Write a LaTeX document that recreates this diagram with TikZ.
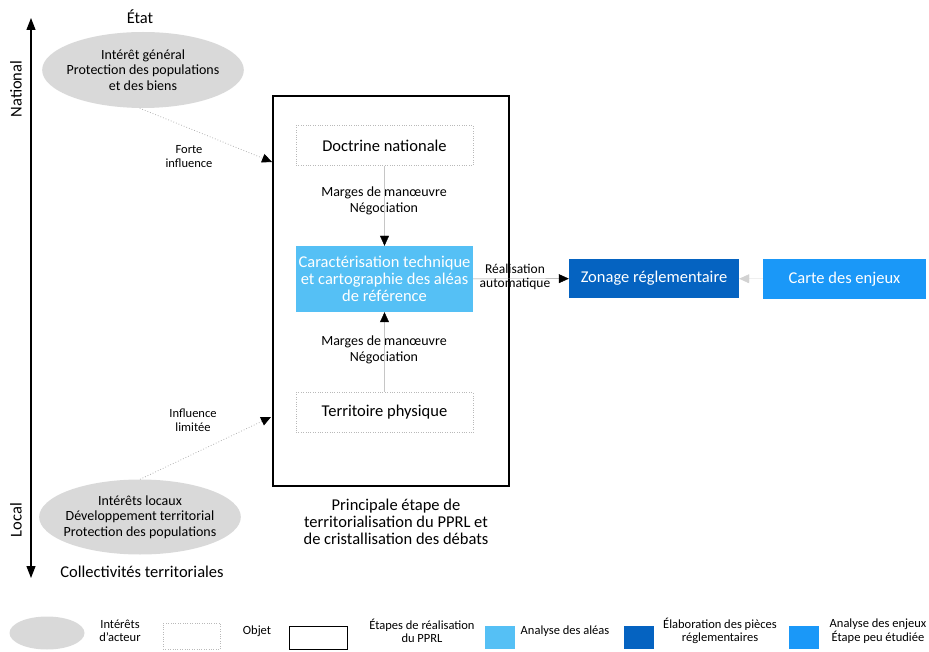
\documentclass[tikz,border=0pt]{standalone}
\usepackage{fontspec}
\setmainfont{Carlito}
\usetikzlibrary{positioning,arrows.meta,shapes.geometric}
\definecolor{aleas}{RGB}{85,192,245}
\definecolor{regl}{RGB}{5,99,193}
\definecolor{enjeux}{RGB}{26,152,248}
\definecolor{interet}{RGB}{217,217,217}

\begin{document}
\begin{tikzpicture}[x=1pt,y=-1pt,
  grand/.style={font=\fontsize{16.5}{17}\selectfont},
  moyen/.style={font=\fontsize{14}{15.5}\selectfont},
  petit/.style={font=\fontsize{12.5}{14}\selectfont},
  legende/.style={font=\fontsize{12.5}{13.5}\selectfont},
  acteur/.style={ellipse,fill=interet,inner xsep=-5pt,inner ysep=0pt,align=center,moyen},
  objet/.style={draw=gray!55,dotted,minimum width=177,minimum height=40,grand},
  etape/.style={fill=#1,text=white,align=center,inner sep=0,grand},
  fleche/.style={-{Triangle[length=10pt,width=9pt,color=black]}},
  influence/.style={fleche,draw=gray!60,dotted,thick},
  marge/.style={fleche,draw=gray!45}]
  \useasboundingbox (0,0) rectangle (929,652);

  \coordinate (haut) at (31,18);
  \coordinate (bas) at (31,578);
  \draw[{Triangle[length=12pt,width=9pt]}-{Triangle[length=12pt,width=9pt]},line width=1.2pt] (haut) -- (bas);
  \node[rotate=90,grand] (national) at (16,89) {National};
  \node[rotate=90,grand] (local) at (16,520) {Local};

  \node[grand] (etat) at (140,17) {État};
  \node[acteur,minimum width=200,minimum height=76] (intgen) at (143,70)
    {Intérêt général\\Protection des populations\\et des biens};
  \node[acteur,minimum width=200,minimum height=75] (intloc) at (140,517)
    {Intérêts locaux\\Développement territorial\\Protection des populations};
  \node[grand] (collec) at (142,572) {Collectivités territoriales};

  \node[draw,line width=1.5pt,minimum width=236,minimum height=390] (etapes) at (391,291) {};
  \node[objet] (doctrine) at (384.5,145.5) {Doctrine nationale};
  \node[etape=aleas,minimum width=177,minimum height=66] (carac) at (384.5,279)
    {Caractérisation technique\\et cartographie des aléas\\de référence};
  \node[objet] (territoire) at (384.5,412.5) {Territoire physique};
  \node[moyen,align=center] (marge1) at (384,201) {Marges de manœuvre\\Négociation};
  \node[moyen,align=center] (marge2) at (384,350) {Marges de manœuvre\\Négociation};
  \node[align=center,grand] (principale) at (396,522)
    {Principale étape de\\territorialisation du PPRL et\\de cristallisation des débats};

  \node[etape=regl,minimum width=170,minimum height=39] (zonage) at (654,278.5) {Zonage réglementaire};
  \node[etape=enjeux,minimum width=163,minimum height=40] (carte) at (844.5,279) {Carte des enjeux};

  \coordinate (forte) at (272,162);
  \coordinate (limitee) at (271,417);
  \draw[influence] (intgen.265) -- (forte);
  \draw[influence] (intloc.north) -- (limitee);
  \node[petit,align=center] (fortelbl) at (189,157) {Forte\\influence};
  \node[petit,align=center] (limlbl) at (193,420) {Influence\\limitée};

  \draw[marge] (doctrine) -- (carac);
  \draw[marge] (territoire) -- (carac);
  \draw[fleche,draw=gray!80] (carac) -- (zonage);
  \node[font=\fontsize{13.5}{14}\selectfont,align=center] (auto) at (515,277) {Réalisation\\automatique};
  \draw[-{Triangle[length=10pt,width=9pt]},draw=gray!15,color=gray!35] (carte) -- (zonage);

  \foreach \x/\t in {120/{Intérêts\\d'acteur},257/Objet,422/{Étapes de réalisation\\du PPRL},
      565/Analyse des aléas,720/{Élaboration des pièces\\réglementaires},878/{Analyse des enjeux\\Étape peu étudiée}}
    \node[legende,align=center] (leg\x) at (\x,631) {\t};
  \node[ellipse,fill=interet,minimum width=75,minimum height=33] (legacteur) at (47,633) {};
  \node[draw=gray!55,dotted,minimum width=57,minimum height=26] (legobjet) at (191.5,636) {};
  \node[draw,minimum width=58,minimum height=23] (legetape) at (318,637.5) {};
  \foreach \x/\c in {500/aleas,639/regl,804/enjeux}
    \node[fill=\c,minimum width=30,minimum height=23] (leg\c) at (\x,637.5) {};
\end{tikzpicture}
\end{document}
